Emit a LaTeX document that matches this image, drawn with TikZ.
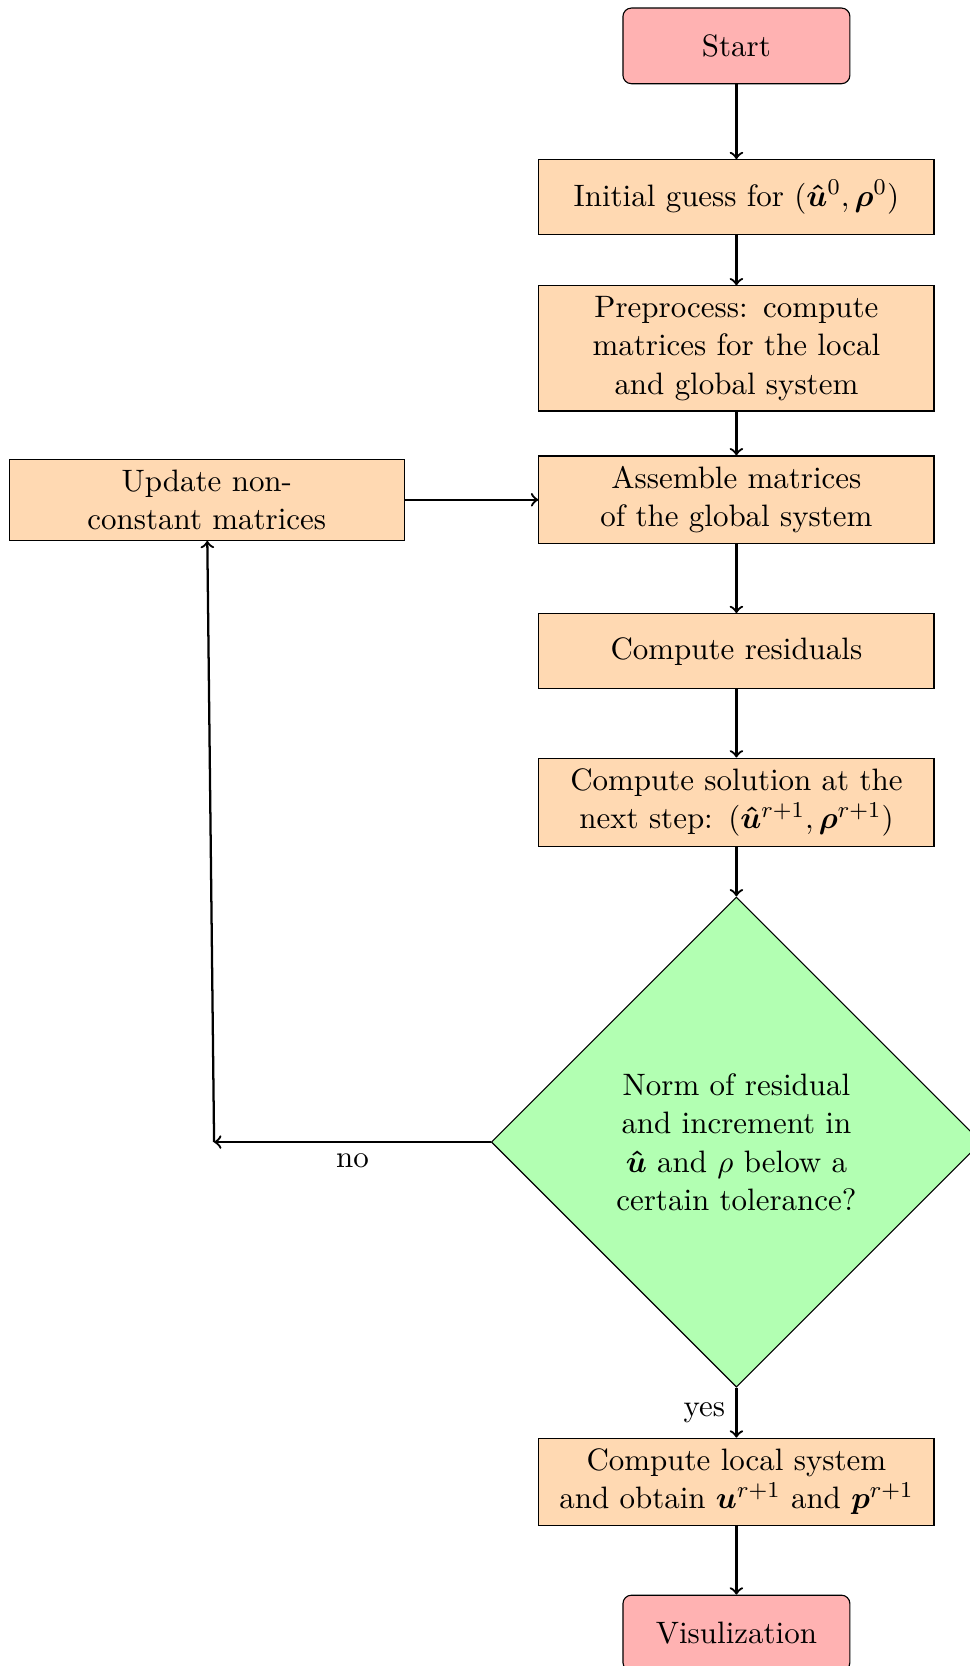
\documentclass[tikz,border=0pt,11pt]{standalone}
\usepackage{amsmath,amssymb,bm}
\usetikzlibrary{shapes.geometric,arrows,positioning}

\begin{document}
\begin{tikzpicture}[
    node distance=1.88cm, on grid,
    block/.style={rectangle, draw, fill=orange!30, text width=4.6cm, align=center, minimum width=4.91cm, minimum height=0.93cm},
    startstop/.style={rectangle, rounded corners=3pt, draw, fill=red!30, minimum width=2.82cm, minimum height=0.94cm},
    decision/.style={diamond, aspect=1, draw, fill=green!30, text width=3.2cm, align=center, minimum width=6.09cm, minimum height=6.09cm, inner sep=0pt},
    line/.style={->, thick}
]
    \useasboundingbox (0,0) rectangle (12.04,-20.70);

    % Main column
    \node[startstop] (start) at (9.15,-0.57) {Start};
    \node[block, below=of start] (init) {Initial guess for $(\bm{\hat{u}}^0,\bm{\rho}^0)$};
    \node[block, below=of init] (prep) {Preprocess: compute\\matrices for the local\\and global system};
    \node[block, below=of prep] (assemble) {Assemble matrices\\of the global system};
    \node[block, below=of assemble] (resid) {Compute residuals};
    \node[block, below=of resid] (solution) {Compute solution at the\\next step: $(\bm{\hat{u}}^{r+1},\bm{\rho}^{r+1})$};
    \node[decision, below=4.22cm of solution] (decide) {Norm of residual\\and increment in\\$\bm{\hat{u}}$ and $\rho$ below a\\certain tolerance?};
    \node[block, below=4.22cm of decide] (local) {Compute local system\\and obtain $\bm{u}^{r+1}$ and $\bm{p}^{r+1}$};
    \node[startstop, below=of local] (vis) {Visulization};

    % Loop back
    \node[block, left=6.58cm of assemble] (update) {Update non-\\constant matrices};
    \coordinate (back) at ([xshift=0.09cm]update.south |- decide.west);

    % Connectors
    \draw[line] (start) -- (init);
    \draw[line] (init) -- (prep);
    \draw[line] (prep) -- (assemble);
    \draw[line] (assemble) -- (resid);
    \draw[line] (resid) -- (solution);
    \draw[line] (solution) -- (decide);
    \draw[line] (decide) -- node[below] {no} (back);
    \draw[line] (back) -- (update);
    \draw[line] (update) -- (assemble);
    \draw[line] (decide) -- node[left] {yes} (local);
    \draw[line] (local) -- (vis);
\end{tikzpicture}
\end{document}
